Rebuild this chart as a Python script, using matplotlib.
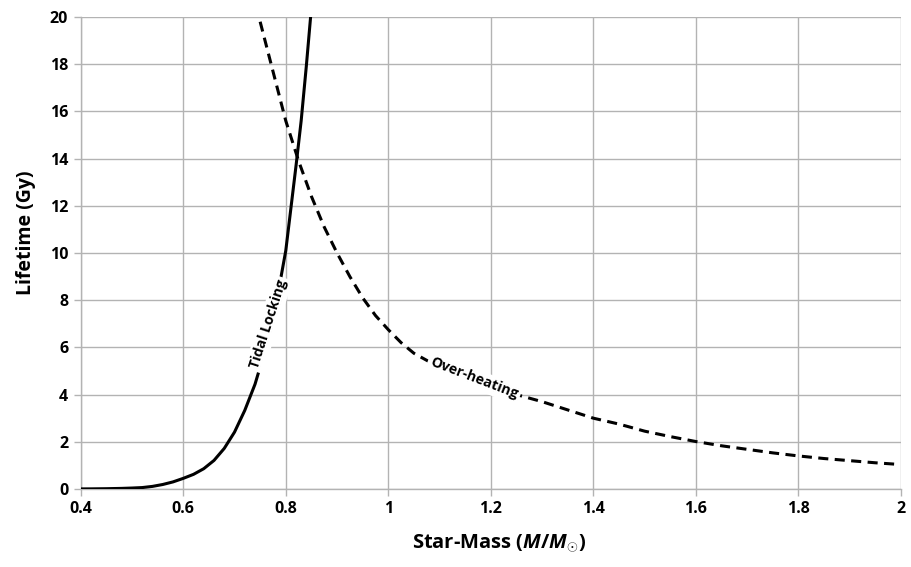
import matplotlib.pyplot as plt

# Tidal-locking lifetime limit (solid curve)
tidal_mass = [0.40, 0.42, 0.45, 0.48, 0.50, 0.52, 0.54, 0.56, 0.58, 0.60,
              0.62, 0.64, 0.66, 0.68, 0.70, 0.72, 0.74, 0.76, 0.78, 0.80,
              0.82, 0.83, 0.84, 0.85, 0.853]
tidal_life = [0.003, 0.005, 0.012, 0.025, 0.04, 0.06, 0.11, 0.19, 0.30, 0.45,
              0.62, 0.86, 1.21, 1.72, 2.41, 3.33, 4.44, 5.9, 7.7, 10.1,
              13.7, 15.6, 17.9, 20.4, 21.2]

# Over-heating lifetime limit (dashed curve)
heat_mass = [0.75, 0.775, 0.80, 0.825, 0.85, 0.875, 0.90, 0.925, 0.95, 0.975,
             1.0, 1.025, 1.05, 1.10, 1.15, 1.20, 1.25, 1.30, 1.35, 1.40,
             1.45, 1.50, 1.55, 1.60, 1.65, 1.70, 1.75, 1.80, 1.85, 1.90,
             1.95, 1.99]
heat_life = [19.8, 17.7, 15.6, 13.9, 12.4, 11.1, 10.0, 9.0, 8.1, 7.35,
             6.75, 6.2, 5.75, 5.15, 4.65, 4.3, 4.0, 3.7, 3.35, 3.0,
             2.75, 2.45, 2.22, 2.01, 1.83, 1.68, 1.53, 1.40, 1.29, 1.20,
             1.11, 1.05]

x_ticks = [0.4, 0.6, 0.8, 1.0, 1.2, 1.4, 1.6, 1.8, 2.0]
x_tick_labels = ["0.4", "0.6", "0.8", "1", "1.2", "1.4", "1.6", "1.8", "2"]
y_ticks = [0, 2, 4, 6, 8, 10, 12, 14, 16, 18, 20]

plt.rcParams["font.family"] = ["Open Sans", "DejaVu Sans"]
plt.rcParams["font.weight"] = "bold"
plt.rcParams["mathtext.fontset"] = "custom"
plt.rcParams["mathtext.rm"] = "Open Sans:bold"
plt.rcParams["mathtext.it"] = "Open Sans:italic:bold"
plt.rcParams["mathtext.bf"] = "Open Sans:bold"

GRID = "#b3b3b3"

fig = plt.figure(figsize=(9.11, 5.67), dpi=100)
ax = fig.add_axes([0.0886, 0.1376, 0.9004, 0.8324])

ax.plot(tidal_mass, tidal_life, color="black", linewidth=2.2, zorder=3,
        solid_capstyle="butt")
ax.plot(heat_mass, heat_life, color="black", linewidth=2.2, zorder=3,
        dashes=(3.3, 2.1))

ax.set_xlim(0.4, 2.0)
ax.set_ylim(0, 20)
ax.set_xticks(x_ticks)
ax.set_xticklabels(x_tick_labels)
ax.set_yticks(y_ticks)
ax.tick_params(labelsize=11.5, color=GRID, length=5, width=1.0, pad=4)
for lbl in ax.get_xticklabels() + ax.get_yticklabels():
    lbl.set_fontweight("bold")
ax.grid(True, color=GRID, linewidth=1.0, zorder=0)
ax.set_axisbelow(True)
for side in ("top", "right"):
    ax.spines[side].set_visible(False)
for side in ("left", "bottom"):
    ax.spines[side].set_color(GRID)
    ax.spines[side].set_linewidth(1.0)

ax.set_ylabel("Lifetime (Gy)", fontsize=14, fontweight="bold")
ax.set_xlabel(r"Star-Mass ($\mathit{M/M}_{\odot}$)", fontsize=14.5,
              fontweight="bold")
ax.yaxis.set_label_coords(-0.055, 0.542)
ax.xaxis.set_label_coords(0.51, -0.093)

box = dict(facecolor="white", edgecolor="none", pad=2.0)
ax.text(0.766, 6.98, "Tidal Locking", rotation=72, ha="center", va="center",
        fontsize=10.2, fontweight="bold", bbox=box, zorder=4,
        rotation_mode="anchor")
ax.text(1.167, 4.68, "Over-heating", rotation=-21, ha="center", va="center",
        fontsize=10.2, fontweight="bold", bbox=box, zorder=4,
        rotation_mode="anchor")

fig.savefig("out.png", dpi=100)
